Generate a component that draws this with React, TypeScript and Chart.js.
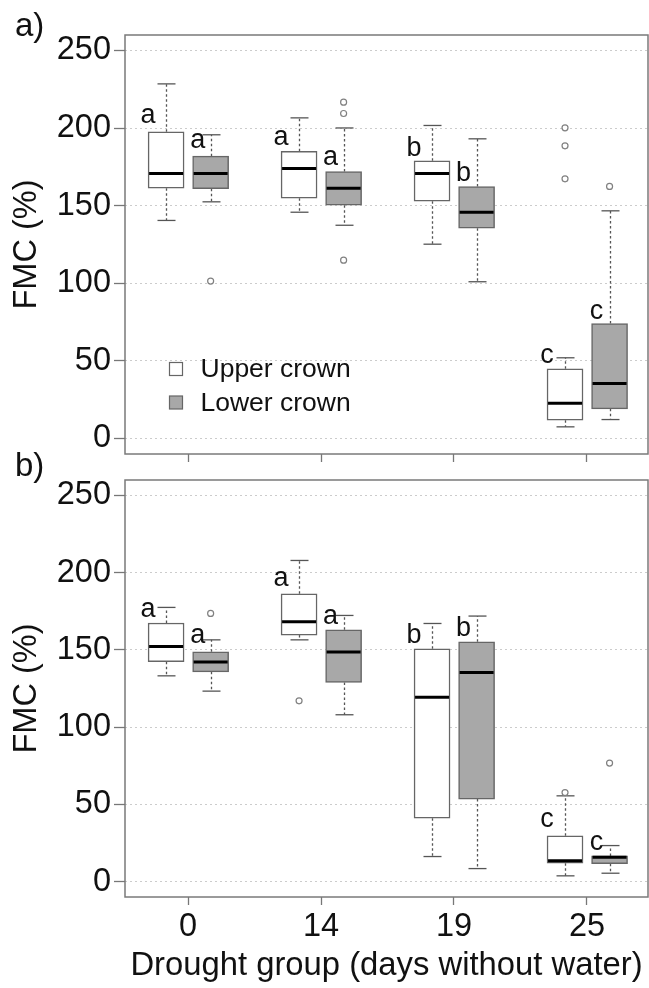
import React, { useEffect, useRef } from 'react';
import { Chart, registerables } from 'chart.js';

Chart.register(...registerables);

const FONT = "'Liberation Sans', Arial, Helvetica, sans-serif";

// ---------- data ----------
const groups = ['0', '14', '19', '25'];
const yTicks = [0, 50, 100, 150, 200, 250];
const seriesNames = ['Upper crown', 'Lower crown'];

// Panel a) — upper crown
const aUpperMin = [140.5, 145.8, 125.2, 7.5];
const aUpperQ1 = [161.3, 154.8, 152.9, 11.8];
const aUpperMed = [170.7, 174.0, 170.7, 22.7];
const aUpperQ3 = [197.6, 185.1, 178.9, 44.9];
const aUpperMax = [228.5, 206.6, 201.7, 52.0];
const aUpperOut = [[], [], [], [200.2, 188.6, 167.3]];
const aUpperLetters = ['a', 'a', 'b', 'c'];
const aUpperLetterY = [203.4, 189.4, 181.9, 48.7];

// Panel a) — lower crown
const aLowerMin = [152.5, 137.4, 101.0, 12.2];
const aLowerQ1 = [160.9, 150.3, 135.5, 19.1];
const aLowerMed = [170.7, 161.3, 145.8, 35.4];
const aLowerQ3 = [181.9, 172.0, 162.4, 74.1];
const aLowerMax = [195.7, 200.1, 193.1, 146.7];
const aLowerOut = [[101.4], [216.7, 209.4, 114.9], [], [162.4]];
const aLowerLetters = ['a', 'a', 'b', 'c'];
const aLowerLetterY = [186.9, 176.1, 166.2, 77.3];

// Panel b) — upper crown
const bUpperMin = [133.2, 156.5, 16.2, 3.7];
const bUpperQ1 = [142.3, 159.6, 41.0, 11.9];
const bUpperMed = [152.2, 168.2, 119.4, 13.4];
const bUpperQ3 = [167.4, 186.3, 150.7, 29.6];
const bUpperMax = [177.5, 207.9, 167.1, 55.5];
const bUpperOut = [[], [117.0], [], [57.6]];
const bUpperLetters = ['a', 'a', 'b', 'c'];
const bUpperLetterY = [171.0, 191.1, 154.4, 35.6];

// Panel b) — lower crown
const bLowerMin = [123.3, 108.0, 8.4, 5.4];
const bLowerQ1 = [135.8, 128.9, 53.4, 11.5];
const bLowerMed = [142.1, 148.6, 135.4, 15.8];
const bLowerQ3 = [148.8, 163.0, 155.2, 16.6];
const bLowerMax = [156.5, 172.3, 171.9, 23.3];
const bLowerOut = [[173.6], [], [], [76.7]];
const bLowerLetters = ['a', 'a', 'b', 'c'];
const bLowerLetterY = [154.4, 166.7, 158.7, 20.5];

// ---------- style ----------
const SERIES_OFFSET = [-0.165, 0.17];
const SERIES_FILL = ['#ffffff', '#a8a8a8'];
const LETTER_DX = [-18, -13];
const BOX_W = 36;
const BOX_BORDER = '#666666';
const FRAME = '#7a7a7a';
const TEXT = '#111111';

type Series = {
  min: number[]; q1: number[]; med: number[]; q3: number[]; max: number[];
  out: number[][]; letters: string[]; letterY: number[];
};
type PanelDef = { tag: string; series: Series[]; legend: boolean; xLabels: boolean };

const panelA: PanelDef = {
  tag: 'a)',
  legend: true,
  xLabels: false,
  series: [
    { min: aUpperMin, q1: aUpperQ1, med: aUpperMed, q3: aUpperQ3, max: aUpperMax, out: aUpperOut, letters: aUpperLetters, letterY: aUpperLetterY },
    { min: aLowerMin, q1: aLowerQ1, med: aLowerMed, q3: aLowerQ3, max: aLowerMax, out: aLowerOut, letters: aLowerLetters, letterY: aLowerLetterY },
  ],
};
const panelB: PanelDef = {
  tag: 'b)',
  legend: false,
  xLabels: true,
  series: [
    { min: bUpperMin, q1: bUpperQ1, med: bUpperMed, q3: bUpperQ3, max: bUpperMax, out: bUpperOut, letters: bUpperLetters, letterY: bUpperLetterY },
    { min: bLowerMin, q1: bLowerQ1, med: bLowerMed, q3: bLowerQ3, max: bLowerMax, out: bLowerOut, letters: bLowerLetters, letterY: bLowerLetterY },
  ],
};

function line(ctx: CanvasRenderingContext2D, x1: number, y1: number, x2: number, y2: number) {
  ctx.beginPath();
  ctx.moveTo(x1, y1);
  ctx.lineTo(x2, y2);
  ctx.stroke();
}

function makeExtras(p: PanelDef) {
  return {
    id: 'boxExtras',
    beforeDatasetsDraw(chart: any) {
      const { ctx, scales } = chart;
      const x = scales.x, y = scales.y;
      ctx.save();
      ctx.strokeStyle = '#555';
      ctx.lineWidth = 1.3;
      p.series.forEach((s, si) => {
        s.q1.forEach((_, i) => {
          const cx = Math.round(x.getPixelForValue(i + 1 + SERIES_OFFSET[si])) + 0.5;
          ctx.setLineDash([2.5, 2.5]);
          line(ctx, cx, y.getPixelForValue(s.q3[i]), cx, y.getPixelForValue(s.max[i]));
          line(ctx, cx, y.getPixelForValue(s.q1[i]), cx, y.getPixelForValue(s.min[i]));
          ctx.setLineDash([]);
          const hw = BOX_W / 4;
          line(ctx, cx - hw, y.getPixelForValue(s.max[i]), cx + hw, y.getPixelForValue(s.max[i]));
          line(ctx, cx - hw, y.getPixelForValue(s.min[i]), cx + hw, y.getPixelForValue(s.min[i]));
        });
      });
      ctx.restore();
    },
    afterDatasetsDraw(chart: any) {
      const { ctx, scales, chartArea } = chart;
      const x = scales.x, y = scales.y;
      ctx.save();
      // medians
      ctx.strokeStyle = '#000';
      ctx.lineWidth = 3;
      p.series.forEach((s, si) => {
        s.med.forEach((m, i) => {
          const cx = x.getPixelForValue(i + 1 + SERIES_OFFSET[si]);
          const py = y.getPixelForValue(m);
          line(ctx, cx - BOX_W / 2 + 1, py, cx + BOX_W / 2 - 1, py);
        });
      });
      // letters
      ctx.fillStyle = TEXT;
      ctx.font = `27px ${FONT}`;
      ctx.textAlign = 'center';
      ctx.textBaseline = 'alphabetic';
      p.series.forEach((s, si) => {
        s.letters.forEach((t, i) => {
          const cx = x.getPixelForValue(i + 1 + SERIES_OFFSET[si]) + LETTER_DX[si];
          ctx.fillText(t, cx, y.getPixelForValue(s.letterY[i]));
        });
      });
      // frame
      ctx.strokeStyle = FRAME;
      ctx.lineWidth = 1.5;
      ctx.strokeRect(chartArea.left, chartArea.top, chartArea.right - chartArea.left, chartArea.bottom - chartArea.top);
      // legend
      if (p.legend) {
        const lx = chartArea.left + 51;
        const ys = [chartArea.bottom - 85, chartArea.bottom - 51.5];
        ctx.font = `26.5px ${FONT}`;
        ctx.textAlign = 'left';
        ctx.textBaseline = 'middle';
        ys.forEach((ly, k) => {
          ctx.fillStyle = SERIES_FILL[k];
          ctx.fillRect(lx - 6.5, ly - 6.5, 13, 13);
          ctx.strokeStyle = BOX_BORDER;
          ctx.lineWidth = 1.2;
          ctx.strokeRect(lx - 6.5, ly - 6.5, 13, 13);
          ctx.fillStyle = TEXT;
          ctx.fillText(seriesNames[k], lx + 24.5, ly + 1);
        });
      }
      // panel tag
      ctx.fillStyle = TEXT;
      ctx.font = `33px ${FONT}`;
      ctx.textAlign = 'left';
      ctx.textBaseline = 'alphabetic';
      ctx.fillText(p.tag, 15, 36);
      ctx.restore();
    },
  };
}

function buildConfig(p: PanelDef, canvasH: number, padTop: number, plotBottom: number): any {
  const datasets: any[] = [];
  p.series.forEach((s, si) => {
    datasets.push({
      type: 'bar',
      label: seriesNames[si],
      data: s.q1.map((q, i) => ({ x: i + 1 + SERIES_OFFSET[si], y: [q, s.q3[i]] })),
      backgroundColor: SERIES_FILL[si],
      borderColor: BOX_BORDER,
      borderWidth: 1.5,
      borderSkipped: false,
      barThickness: BOX_W,
      grouped: false,
      order: 2,
    });
  });
  p.series.forEach((s, si) => {
    const pts: any[] = [];
    s.out.forEach((arr, i) => arr.forEach((v) => pts.push({ x: i + 1 + SERIES_OFFSET[si], y: v })));
    datasets.push({
      type: 'scatter',
      label: seriesNames[si] + ' outliers',
      data: pts,
      pointRadius: 3,
      pointBorderWidth: 1.2,
      pointBorderColor: '#808080',
      pointBackgroundColor: '#ffffff',
      showLine: false,
      order: 1,
    });
  });

  const xAxisH = canvasH - plotBottom;
  return {
    type: 'bar',
    data: { datasets },
    plugins: [makeExtras(p)],
    options: {
      responsive: false,
      animation: false,
      events: [],
      layout: { autoPadding: false, padding: { top: padTop, left: 0, right: 1, bottom: 0 } },
      plugins: { legend: { display: false }, tooltip: { enabled: false }, title: { display: false } },
      scales: {
        x: {
          type: 'linear',
          min: 0.526,
          max: 4.459,
          offset: false,
          afterBuildTicks: (s: any) => { s.ticks = groups.map((_, i) => ({ value: i + 1 })); },
          afterFit: (s: any) => { s.height = xAxisH; s.paddingLeft = 0; s.paddingRight = 0; },
          ticks: {
            display: p.xLabels,
            autoSkip: false,
            maxRotation: 0,
            padding: 3,
            color: TEXT,
            font: { family: FONT, size: 32.5 },
            callback: (_v: any, i: number) => groups[i],
          },
          grid: { offset: false, drawOnChartArea: false, drawTicks: true, tickLength: 8, tickColor: '#777', tickWidth: 1.3 },
          border: { display: false },
          title: {
            display: p.xLabels,
            text: 'Drought group (days without water)',
            color: TEXT,
            font: { family: FONT, size: 32.8 },
            padding: { top: 0, bottom: 2 },
          },
        },
        y: {
          type: 'linear',
          min: -10,
          max: 260,
          afterBuildTicks: (s: any) => { s.ticks = yTicks.map((v) => ({ value: v })); },
          afterFit: (s: any) => { s.width = 125; s.paddingTop = 0; s.paddingBottom = 0; },
          ticks: { padding: 3, color: TEXT, font: { family: FONT, size: 32.5 }, autoSkip: false },
          grid: { color: '#cccccc', lineWidth: 1, tickLength: 11, tickColor: '#777', tickWidth: 1.3 },
          border: { display: false, dash: [2, 3] },
          title: {
            display: true,
            text: 'FMC (%)',
            color: TEXT,
            font: { family: FONT, size: 32.5 },
            padding: { top: 8, bottom: 0 },
          },
        },
      },
    },
  };
}

function Panel({ p, top, height, padTop, plotBottom }: { p: PanelDef; top: number; height: number; padTop: number; plotBottom: number }) {
  const ref = useRef<HTMLCanvasElement | null>(null);
  useEffect(() => {
    if (!ref.current) return;
    const chart = new Chart(ref.current, buildConfig(p, height, padTop, plotBottom));
    return () => chart.destroy();
  }, []);
  return (
    <canvas
      ref={ref}
      width={649}
      height={height}
      style={{ position: 'absolute', left: 0, top, width: 649, height, display: 'block' }}
    />
  );
}

export default function App() {
  return (
    <div style={{ position: 'absolute', left: 0, top: 0, width: 649, height: 988, background: '#fff' }}>
      <Panel p={panelA} top={0} height={463} padTop={35} plotBottom={454} />
      <Panel p={panelB} top={440} height={548} padTop={40} plotBottom={457} />
    </div>
  );
}
